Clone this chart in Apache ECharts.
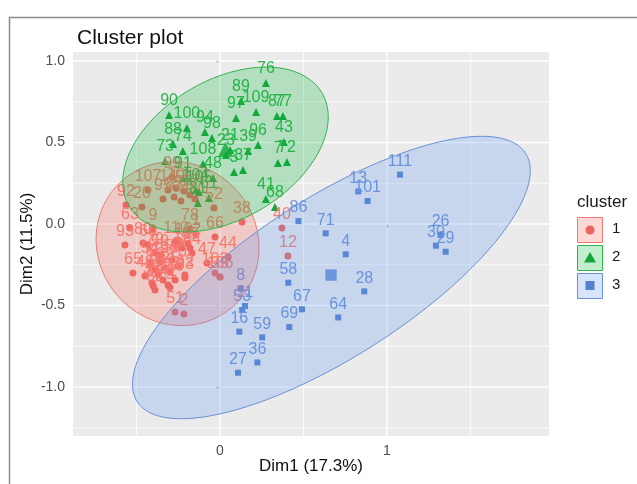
<!DOCTYPE html>
<html><head><meta charset="utf-8">
<script src="https://cdn.jsdelivr.net/npm/echarts@6/dist/echarts.min.js"></script>
<style>html,body{margin:0;padding:0;background:#fff}#c{width:637px;height:484px}</style>
</head><body><div id="c"></div>
<script>
// ---- data ----
const xTickValues = [0, 1];
const yTickValues = [-1.0, -0.5, 0.0, 0.5, 1.0];
const xMajorGrid = [0, 1];
const xMinorGrid = [-0.5, 0.5, 1.5];
const yMajorGrid = [-1, -0.5, 0, 0.5, 1];
const yMinorGrid = [-1.25, -0.75, -0.25, 0.25, 0.75];
const clusterNames = ['1', '2', '3'];
// [id, Dim1, Dim2]
const cluster1 = [
  [107,-0.431,0.209],[92,-0.563,0.117],[20,-0.467,0.104],[99,-0.287,0.288],[14,-0.311,0.209],
  [10,-0.263,0.221],[55,-0.216,0.202],[85,-0.275,0.166],[95,-0.341,0.153],[17,-0.18,0.178],
  [34,-0.234,0.141],[57,-0.15,0.153],[52,-0.036,0.098],[63,-0.539,-0.025],[9,-0.401,-0.031],
  [93,-0.569,-0.129],[80,-0.461,-0.117],[60,-0.431,-0.129],[79,-0.389,-0.178],[15,-0.228,-0.147],
  [45,-0.18,-0.147],[44,0.048,-0.202],[65,-0.521,-0.301],[62,-0.21,-0.313],[35,0.0,-0.325],
  [54,-0.419,-0.233],[51,-0.269,-0.54],[2,-0.216,-0.552],[47,-0.078,-0.239],[38,0.132,0.012],
  [78,-0.18,-0.031],[66,-0.03,-0.08],[1,-0.144,-0.061],[40,0.371,-0.025],[12,0.407,-0.196],
  [6,-0.419,-0.252],[18,-0.389,-0.282],[19,-0.359,-0.233],[22,-0.329,-0.27],[24,-0.371,-0.313],
  [25,-0.299,-0.294],[32,-0.341,-0.344],[33,-0.407,-0.362],[42,-0.311,-0.374],[46,-0.269,-0.344],
  [49,-0.449,-0.319],[50,-0.359,-0.19],[56,-0.287,-0.221],[70,-0.251,-0.258],[82,-0.389,-0.405],
  [83,-0.21,-0.33],[84,-0.168,-0.178],[102,-0.192,-0.12],[103,-0.03,-0.301],[106,0.0,-0.325],
  [110,-0.263,-0.11],[31,-0.4,-0.38],[5,-0.3,-0.39]
];
const cluster2 = [
  [76,0.275,0.865],[89,0.126,0.755],[97,0.096,0.65],[109,0.216,0.687],[87,0.341,0.663],
  [77,0.377,0.663],[43,0.383,0.503],[72,0.401,0.38],[7,0.347,0.374],[96,0.228,0.485],
  [39,0.168,0.448],[37,0.138,0.331],[3,0.084,0.319],[48,-0.042,0.282],[108,-0.102,0.368],
  [90,-0.305,0.669],[100,-0.198,0.589],[94,-0.09,0.564],[98,-0.048,0.528],[88,-0.281,0.491],
  [74,-0.222,0.448],[73,-0.329,0.387],[41,0.275,0.153],[68,0.329,0.104],[91,-0.222,0.282],
  [104,-0.144,0.209],[105,-0.126,0.196],[81,-0.132,0.129],[61,-0.066,0.16],[23,0.036,0.423],
  [21,0.06,0.454]
];
const cluster3 = [
  [86,0.47,0.018],[71,0.633,-0.057],[4,0.753,-0.186],[28,0.864,-0.413],[64,0.708,-0.573],
  [58,0.409,-0.36],[67,0.491,-0.523],[69,0.415,-0.632],[13,0.828,0.2],[101,0.884,0.141],
  [8,0.124,-0.395],[11,0.15,-0.503],[53,0.133,-0.527],[16,0.116,-0.66],[59,0.253,-0.695],
  [36,0.224,-0.849],[27,0.108,-0.912],[111,1.078,0.303],[26,1.321,-0.067],[30,1.293,-0.133],
  [29,1.351,-0.17]
];
const clusterCenters = [[-0.254,-0.117],[0.033,0.457],[0.665,-0.313]];
// ellipse: semi-major, semi-minor, angle (deg)
const ellipseCenters = [[-0.254,-0.12],[0.033,0.457],[0.667,-0.328]];
const ellipseA = [0.51, 0.674, 1.39];
const ellipseB = [0.48, 0.424, 0.486];
const ellipseAngle = [120, 31.7, 33.4];

// ---- styles ----
const pointColors = ['#ec6461', '#17a53a', '#5482cc'];
const labelColors = ['#f47b72', '#2fb44a', '#6b90d6'];
const strokeColors = ['#ee7a72', '#2fb44a', '#6a8fd8'];
const fillColors = ['rgba(248,110,100,0.27)', 'rgba(0,186,56,0.24)', 'rgba(97,150,245,0.25)'];
const symbols = ['circle', 'triangle', 'rect'];
const symbolSizes = [7, 8, 6];
const FONT = '"Liberation Sans", Arial, sans-serif';
const X_MIN = -0.88, X_MAX = 1.97, Y_MIN = -1.30, Y_MAX = 1.055;

const chart = echarts.init(document.getElementById('c'), null, {renderer: 'canvas'});

function gridSeries(values, width, vertical) {
  return {
    type: 'custom', silent: true, z: 1,
    data: values.map(v => [v, v]),
    renderItem: (p, api) => {
      const v = api.value(0);
      const a = vertical ? api.coord([v, Y_MIN]) : api.coord([X_MIN, v]);
      const b = vertical ? api.coord([v, Y_MAX]) : api.coord([X_MAX, v]);
      return {type: 'line', shape: {x1: a[0], y1: a[1], x2: b[0], y2: b[1]},
              style: {stroke: '#ffffff', lineWidth: width}};
    }
  };
}

function ellipseSeries(k) {
  return {
    type: 'custom', silent: true, z: 4 + k,
    data: [[ellipseCenters[k][0], ellipseCenters[k][1]]],
    renderItem: (p, api) => {
      const cx = api.value(0), cy = api.value(1);
      const a = ellipseA[k], b = ellipseB[k], ang = ellipseAngle[k] * Math.PI / 180;
      const ca = Math.cos(ang), sa = Math.sin(ang);
      const pts = [];
      for (let i = 0; i < 180; i++) {
        const t = i / 180 * 2 * Math.PI;
        const ex = a * Math.cos(t), ey = b * Math.sin(t);
        pts.push(api.coord([cx + ex * ca - ey * sa, cy + ex * sa + ey * ca]));
      }
      return {type: 'polygon', shape: {points: pts},
              style: {fill: fillColors[k], stroke: strokeColors[k], lineWidth: 1}};
    }
  };
}

function pointSeries(k, arr) {
  return {
    type: 'scatter', z: 2, name: clusterNames[k],
    symbol: symbols[k], symbolSize: symbolSizes[k],
    itemStyle: {color: pointColors[k], opacity: 1},
    data: arr.map(d => [d[1], d[2], d[0]]),
    label: {show: true, position: 'top', distance: 2, formatter: p => String(p.value[2]),
            color: labelColors[k], fontSize: 16, fontFamily: FONT},
    emphasis: {disabled: true}
  };
}

function centerSeries(k) {
  return {
    type: 'scatter', z: 2, symbol: symbols[k], symbolSize: symbolSizes[k] * 1.9,
    itemStyle: {color: pointColors[k]},
    data: [clusterCenters[k]], emphasis: {disabled: true}
  };
}

const legendGraphics = [];
legendGraphics.push({type: 'text', left: 577, top: 194, silent: true,
  style: {text: 'cluster', fontSize: 17, fontFamily: FONT, fill: '#1a1a1a'}});
for (let k = 0; k < 3; k++) {
  const cy = 230 + k * 28;
  legendGraphics.push({type: 'rect', silent: true, shape: {x: 577.5, y: cy - 12.5, width: 25, height: 25},
    style: {fill: fillColors[k], stroke: strokeColors[k], lineWidth: 1}});
  if (k === 0) legendGraphics.push({type: 'circle', silent: true, shape: {cx: 590, cy: cy, r: 4.5}, style: {fill: pointColors[k]}});
  if (k === 1) legendGraphics.push({type: 'polygon', silent: true, shape: {points: [[590, cy - 6], [596, cy + 4.5], [584, cy + 4.5]]}, style: {fill: pointColors[k]}});
  if (k === 2) legendGraphics.push({type: 'rect', silent: true, shape: {x: 585.5, y: cy - 5, width: 9, height: 9}, style: {fill: pointColors[k]}});
  legendGraphics.push({type: 'text', silent: true, left: 612, top: cy - 9,
    style: {text: clusterNames[k], fontSize: 15, fontFamily: FONT, fill: '#1a1a1a'}});
}
legendGraphics.push({type: 'rect', silent: true, shape: {x: 9.5, y: 17.5, width: 700, height: 600},
  style: {fill: 'none', stroke: '#8c8c8c', lineWidth: 1.5}});

const option = {
  animation: false,
  backgroundColor: '#ffffff',
  title: {text: 'Cluster plot', left: 72, top: 23,
    textStyle: {fontSize: 21, fontWeight: 'normal', color: '#111', fontFamily: FONT}},
  grid: {left: 73, right: 88, top: 52, bottom: 48, show: true, backgroundColor: '#ebebeb', borderWidth: 0},
  xAxis: {
    type: 'value', min: X_MIN, max: X_MAX,
    name: 'Dim1 (17.3%)', nameLocation: 'middle', nameGap: 22, nameMoveOverlap: false,
    nameTextStyle: {fontSize: 17, color: '#111', fontFamily: FONT},
    axisLine: {show: false}, splitLine: {show: false},
    axisTick: {show: true, customValues: xTickValues, length: 4, lineStyle: {color: '#333', width: 1.2}},
    axisLabel: {customValues: xTickValues, formatter: v => String(v), fontSize: 14, color: '#4d4d4d', margin: 8, fontFamily: FONT}
  },
  yAxis: {
    type: 'value', min: Y_MIN, max: Y_MAX,
    name: 'Dim2 (11.5%)', nameLocation: 'middle', nameGap: 37, nameRotate: 90, nameMoveOverlap: false,
    nameTextStyle: {fontSize: 17, color: '#111', fontFamily: FONT},
    axisLine: {show: false}, splitLine: {show: false},
    axisTick: {show: true, customValues: yTickValues, length: 4, lineStyle: {color: '#333', width: 1.2}},
    axisLabel: {customValues: yTickValues, formatter: v => v.toFixed(1), fontSize: 14, color: '#4d4d4d', margin: 8, fontFamily: FONT}
  },
  graphic: legendGraphics,
  series: [
    gridSeries(xMinorGrid, 0.8, true),
    gridSeries(yMinorGrid, 0.8, false),
    gridSeries(xMajorGrid, 1.4, true),
    gridSeries(yMajorGrid, 1.4, false),
    pointSeries(0, cluster1), pointSeries(1, cluster2), pointSeries(2, cluster3),
    centerSeries(0), centerSeries(1), centerSeries(2),
    ellipseSeries(0), ellipseSeries(1), ellipseSeries(2)
  ]
};
chart.setOption(option);
</script></body></html>
